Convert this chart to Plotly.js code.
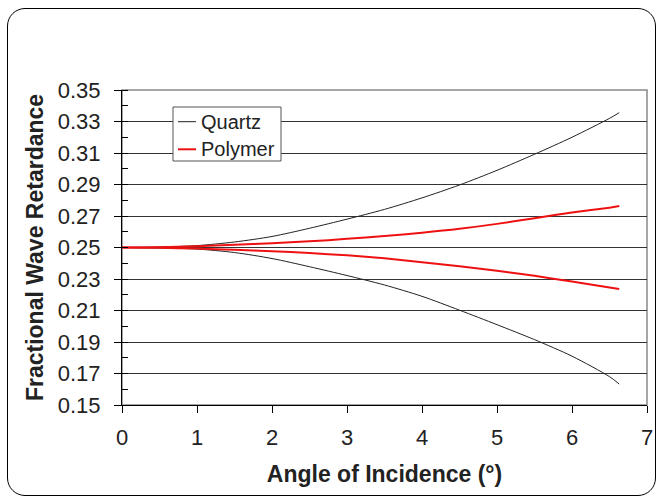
<!DOCTYPE html>
<html>
<head>
<meta charset="utf-8">
<script src="https://cdn.plot.ly/plotly-3.0.1.min.js"></script>
<style>
html,body{margin:0;padding:0;background:#fff;}
#frame{position:absolute;left:7px;top:8px;width:649px;height:488px;border:1.5px solid #000;border-radius:18px;box-sizing:border-box;}
#chart{position:absolute;left:0;top:0;width:657px;height:500px;}
</style>
</head>
<body>
<div id="frame"></div>
<div id="chart"></div>
<script>
const angle = [0, 0.5, 1, 1.5, 2, 2.5, 3, 3.5, 4, 4.5, 5, 5.5, 6, 6.5, 6.63];
const quartzUpper = [0.25, 0.2503, 0.2512, 0.2535, 0.2570, 0.2622, 0.2680, 0.2742, 0.2815, 0.2897, 0.2990, 0.3092, 0.3200, 0.3320, 0.3356];
const quartzLower = [0.25, 0.2497, 0.2490, 0.2468, 0.2430, 0.2378, 0.2322, 0.2262, 0.2190, 0.2102, 0.2010, 0.1915, 0.1810, 0.1680, 0.1633];
const polymerUpper = [0.25, 0.2502, 0.2508, 0.2517, 0.2527, 0.2539, 0.2555, 0.2573, 0.2594, 0.2619, 0.2650, 0.2686, 0.2722, 0.2753, 0.2763];
const polymerLower = [0.25, 0.2498, 0.2493, 0.2485, 0.2476, 0.2465, 0.2450, 0.2431, 0.2407, 0.2381, 0.2352, 0.2320, 0.2284, 0.2246, 0.2236];
const seriesNames = ['Quartz', 'Polymer'];

const quartzColor = '#222222';
const polymerColor = '#ee1111';
const F = 'Arial, "Liberation Sans", Helvetica, sans-serif';

const traces = [
  {x: angle, y: quartzUpper, mode: 'lines', name: seriesNames[0], line: {color: quartzColor, width: 1, shape: 'spline', smoothing: 0.8}},
  {x: angle, y: polymerUpper, mode: 'lines', name: seriesNames[1], line: {color: polymerColor, width: 2, shape: 'spline', smoothing: 0.8}},
  {x: angle, y: quartzLower, mode: 'lines', name: seriesNames[0], line: {color: quartzColor, width: 1, shape: 'spline', smoothing: 0.8}},
  {x: angle, y: polymerLower, mode: 'lines', name: seriesNames[1], line: {color: polymerColor, width: 2, shape: 'spline', smoothing: 0.8}}
];

// plot area in pixels: left 122, top 90, width 525, height 315
const PL = 122, PT = 90, PW = 525, PH = 315;
const px = v => (v - PL) / PW;
const py = v => (PT + PH - v) / PH;

const legendBox = {x0: 173, x1: 281, y0: 107, y1: 161};
const legendRows = [121.7, 149.3];
const legendColors = [quartzColor, polymerColor];
const legendWidths = [1, 2];

const shapes = [
  {type: 'rect', xref: 'paper', yref: 'paper', x0: 0, x1: 1, y0: 0, y1: 1, line: {color: '#888', width: 1.5}, layer: 'below'},
  {type: 'rect', xref: 'paper', yref: 'paper', x0: px(legendBox.x0), x1: px(legendBox.x1), y0: py(legendBox.y1), y1: py(legendBox.y0),
   fillcolor: '#fff', line: {color: '#555', width: 1}, layer: 'above'}
];
const annotations = [];
seriesNames.forEach((n, i) => {
  shapes.push({type: 'line', xref: 'paper', yref: 'paper', x0: px(178), x1: px(196), y0: py(legendRows[i]), y1: py(legendRows[i]),
    line: {color: legendColors[i], width: legendWidths[i]}, layer: 'above'});
  annotations.push({xref: 'paper', yref: 'paper', x: px(199), y: py(legendRows[i]), xanchor: 'left', yanchor: 'middle',
    text: n, showarrow: false, font: {family: F, size: 20, color: '#222'}});
});

const layout = {
  width: 657, height: 500,
  paper_bgcolor: 'rgba(0,0,0,0)',
  plot_bgcolor: '#fff',
  margin: {l: PL, r: 657 - PL - PW, t: PT, b: 500 - PT - PH, pad: 0},
  font: {family: F, size: 22, color: '#222'},
  showlegend: false,
  xaxis: {
    range: [0, 7], dtick: 1, tick0: 0,
    showgrid: false, zeroline: false,
    showline: true, linecolor: '#000', linewidth: 1,
    ticks: 'outside', ticklen: 7, tickcolor: '#000', tickwidth: 1,
    ticklabelstandoff: 6,
    tickfont: {family: F, size: 22, color: '#222'},
    title: {text: 'Angle of Incidence (°)', font: {family: F, size: 23, color: '#222', weight: 'bold'}, standoff: 16}
  },
  yaxis: {
    range: [0.15, 0.35], dtick: 0.02, tick0: 0.15, tickformat: '.2f',
    showgrid: true, gridcolor: '#333', gridwidth: 1, zeroline: false,
    showline: true, linecolor: '#000', linewidth: 1,
    ticks: 'outside', ticklen: 7, tickcolor: '#000', tickwidth: 1,
    ticklabelstandoff: 9,
    minor: {dtick: 0.01, tick0: 0.15, ticks: 'inside', ticklen: 6, tickcolor: '#000', tickwidth: 1, showgrid: false},
    tickfont: {family: F, size: 22, color: '#222'},
    title: {text: 'Fractional Wave Retardance', font: {family: F, size: 23, color: '#222', weight: 'bold'}, standoff: 7}
  },
  shapes: shapes,
  annotations: annotations
};

Plotly.newPlot('chart', traces, layout, {staticPlot: true, displayModeBar: false});
</script>
</body>
</html>
